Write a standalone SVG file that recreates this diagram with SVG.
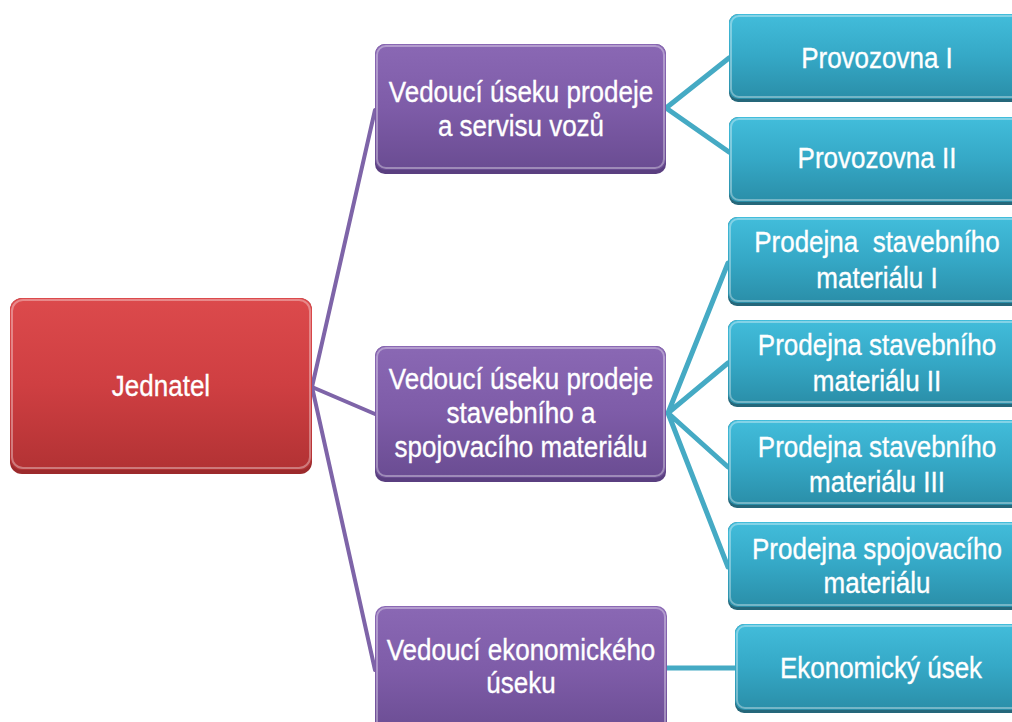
<svg xmlns="http://www.w3.org/2000/svg" width="1012" height="722" viewBox="0 0 1012 722">
<style>
.t{font-family:"Liberation Sans",Arial,sans-serif;font-size:26px;fill:#ffffff;text-anchor:middle;stroke:#ffffff;stroke-width:0.3}
.pl{stroke:#7e64a8;stroke-width:4;fill:none;stroke-linecap:round}
.tl{stroke:#45aac4;stroke-width:5;fill:none;stroke-linecap:round}
.hi{fill:none;stroke:#ffffff;stroke-opacity:0.35;stroke-width:2}
</style>
<defs>
<linearGradient id="gr" x1="0" y1="0" x2="0" y2="1"><stop offset="0" stop-color="#dc4a4c"/><stop offset="0.5" stop-color="#cf3f42"/><stop offset="1" stop-color="#b23234"/></linearGradient>
<linearGradient id="gp" x1="0" y1="0" x2="0" y2="1"><stop offset="0" stop-color="#8a68b4"/><stop offset="0.5" stop-color="#7e5ca8"/><stop offset="1" stop-color="#6a4c92"/></linearGradient>
<linearGradient id="gt" x1="0" y1="0" x2="0" y2="1"><stop offset="0" stop-color="#42bddb"/><stop offset="0.5" stop-color="#35a8c6"/><stop offset="1" stop-color="#2a8ea8"/></linearGradient>
</defs>
<rect width="1012" height="722" fill="#ffffff"/>
<g id="connectors">
<path class="pl" d="M312,387 L375,110"/>
<path class="pl" d="M312,387 L375,414"/>
<path class="pl" d="M312,387 L375,670"/>
<path class="tl" d="M666,108 L729,58 M666,108 L729,152"/>
<path class="tl" d="M668,413 L728,263 M668,413 L728,363 M668,413 L728,467 M668,413 L728,567"/>
<path class="tl" d="M667,668 L735,668"/>
</g>
<g id="n-jednatel">
<rect x="10" y="298" width="302" height="176" rx="12" fill="#9c2a2c"/>
<rect x="10" y="298" width="302" height="172" rx="12" fill="url(#gr)"/>
<rect x="12" y="300" width="298" height="168" rx="11" class="hi"/>
<text class="t" x="161" y="396" transform="matrix(1,0,0,1.15,0,-59.4)">Jednatel</text>
</g>
<g id="n-v1">
<rect x="375" y="44" width="291" height="130" rx="10" fill="#5a3f80"/>
<rect x="375" y="44" width="291" height="126" rx="10" fill="url(#gp)"/>
<rect x="377" y="46" width="287" height="122" rx="9" class="hi"/>
<text class="t" x="521" y="102" transform="matrix(1,0,0,1.15,0,-15.3)">Vedoucí úseku prodeje</text>
<text class="t" x="521" y="136" transform="matrix(1,0,0,1.15,0,-20.4)">a servisu vozů</text>
</g>
<g id="n-v2">
<rect x="375" y="346" width="291" height="136" rx="10" fill="#5a3f80"/>
<rect x="375" y="346" width="291" height="132" rx="10" fill="url(#gp)"/>
<rect x="377" y="348" width="287" height="128" rx="9" class="hi"/>
<text class="t" x="521" y="389" transform="matrix(1,0,0,1.15,0,-58.35)">Vedoucí úseku prodeje</text>
<text class="t" x="521" y="423" transform="matrix(1,0,0,1.15,0,-63.45)">stavebního a</text>
<text class="t" x="521" y="457" transform="matrix(1,0,0,1.15,0,-68.55)">spojovacího materiálu</text>
</g>
<g id="n-v3">
<rect x="375" y="606" width="292" height="130" rx="10" fill="url(#gp)"/>
<rect x="377" y="608" width="288" height="126" rx="9" class="hi"/>
<text class="t" x="521" y="660" transform="matrix(1,0,0,1.15,0,-99)">Vedoucí ekonomického</text>
<text class="t" x="521" y="693" transform="matrix(1,0,0,1.15,0,-103.95)">úseku</text>
</g>
<g id="n-p1">
<rect x="729" y="14" width="300" height="88" rx="9" fill="#25677a"/>
<rect x="729" y="14" width="300" height="85" rx="9" fill="url(#gt)"/>
<rect x="731" y="16" width="296" height="81" rx="8" class="hi"/>
<text class="t" x="877" y="68" transform="matrix(1,0,0,1.15,0,-10.2)">Provozovna I</text>
</g>
<g id="n-p2">
<rect x="729" y="117" width="300" height="88" rx="9" fill="#25677a"/>
<rect x="729" y="117" width="300" height="85" rx="9" fill="url(#gt)"/>
<rect x="731" y="119" width="296" height="81" rx="8" class="hi"/>
<text class="t" x="877" y="168" transform="matrix(1,0,0,1.15,0,-25.2)">Provozovna II</text>
</g>
<g id="n-s1">
<rect x="728" y="217" width="300" height="89" rx="9" fill="#25677a"/>
<rect x="728" y="217" width="300" height="86" rx="9" fill="url(#gt)"/>
<rect x="730" y="219" width="296" height="82" rx="8" class="hi"/>
<text class="t" x="877" y="252" xml:space="preserve" transform="matrix(1,0,0,1.15,0,-37.8)">Prodejna  stavebního</text>
<text class="t" x="877" y="288" transform="matrix(1,0,0,1.15,0,-43.2)">materiálu I</text>
</g>
<g id="n-s2">
<rect x="728" y="320" width="300" height="87" rx="9" fill="#25677a"/>
<rect x="728" y="320" width="300" height="84" rx="9" fill="url(#gt)"/>
<rect x="730" y="322" width="296" height="80" rx="8" class="hi"/>
<text class="t" x="877" y="355" transform="matrix(1,0,0,1.15,0,-53.25)">Prodejna stavebního</text>
<text class="t" x="877" y="391" transform="matrix(1,0,0,1.15,0,-58.65)">materiálu II</text>
</g>
<g id="n-s3">
<rect x="728" y="420" width="300" height="88" rx="9" fill="#25677a"/>
<rect x="728" y="420" width="300" height="85" rx="9" fill="url(#gt)"/>
<rect x="730" y="422" width="296" height="81" rx="8" class="hi"/>
<text class="t" x="877" y="457" transform="matrix(1,0,0,1.15,0,-68.55)">Prodejna stavebního</text>
<text class="t" x="877" y="492" transform="matrix(1,0,0,1.15,0,-73.8)">materiálu III</text>
</g>
<g id="n-s4">
<rect x="728" y="522" width="300" height="88" rx="9" fill="#25677a"/>
<rect x="728" y="522" width="300" height="85" rx="9" fill="url(#gt)"/>
<rect x="730" y="524" width="296" height="81" rx="8" class="hi"/>
<text class="t" x="877" y="559" transform="matrix(1,0,0,1.15,0,-83.85)">Prodejna spojovacího</text>
<text class="t" x="877" y="593" transform="matrix(1,0,0,1.15,0,-88.95)">materiálu</text>
</g>
<g id="n-eko">
<rect x="735" y="624" width="300" height="89" rx="9" fill="#25677a"/>
<rect x="735" y="624" width="300" height="86" rx="9" fill="url(#gt)"/>
<rect x="737" y="626" width="296" height="82" rx="8" class="hi"/>
<text class="t" x="881" y="678" transform="matrix(1,0,0,1.15,0,-101.7)">Ekonomický úsek</text>
</g>
</svg>
